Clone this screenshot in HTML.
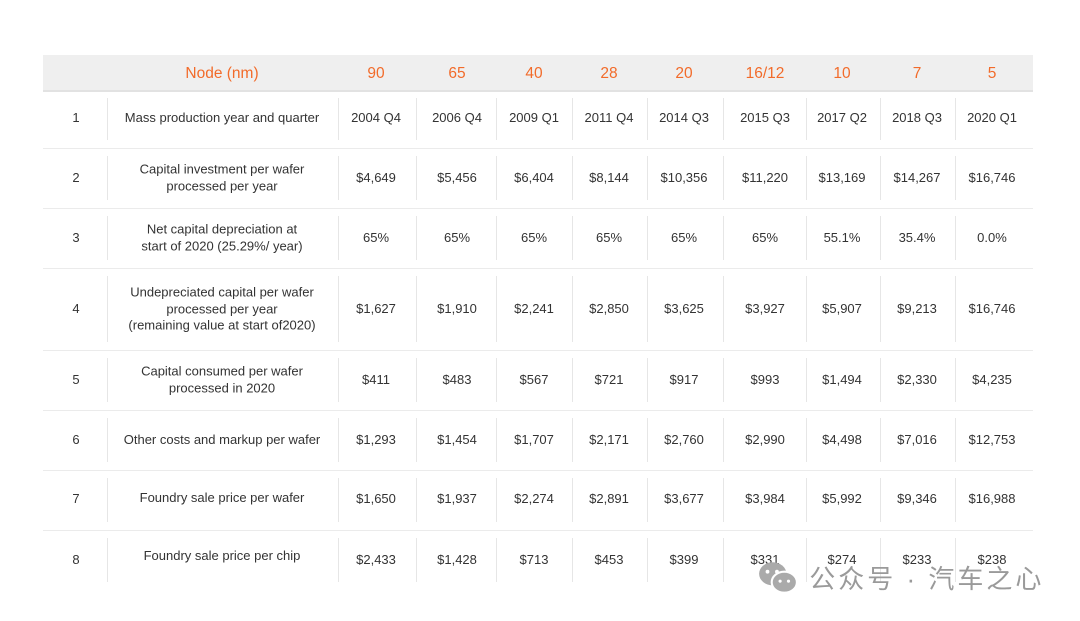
<!DOCTYPE html>
<html><head><meta charset="utf-8"><style>
body{margin:0;width:1080px;height:621px;background:#fff;position:relative;overflow:hidden;font-family:"Liberation Sans","Noto Sans CJK SC",sans-serif;color:#333}
.hd{position:absolute;left:43px;top:55px;width:990px;height:35px;background:#efefef;border-bottom:2px solid #e2e2e2}
.t{position:absolute;transform:translate(-50%,-50%);text-align:center;font-size:13px;line-height:16.5px;white-space:nowrap}
.h{color:#f26b2a;font-size:15.5px}
.hl{position:absolute;left:43px;width:990px;height:1px;background:#ebebeb}
.vl{position:absolute;width:1px;background:#e6e6e6}
.wm{position:absolute;color:#9a9a9a;font-size:26px;letter-spacing:3px;white-space:nowrap}
</style></head><body>
<div class="hd"></div>
<div id="c"></div>
<div class="wm" style="left:757px;top:559px;">
<svg width="42" height="36" viewBox="0 0 40 34" style="vertical-align:middle"><ellipse cx="15" cy="13" rx="13" ry="11" fill="#aaa"/><ellipse cx="26" cy="21" rx="12" ry="10" fill="#aaa" stroke="#fff" stroke-width="2"/><circle cx="10" cy="11" r="1.8" fill="#fff"/><circle cx="19" cy="11" r="1.8" fill="#fff"/><circle cx="22" cy="20" r="1.5" fill="#fff"/><circle cx="30" cy="20" r="1.5" fill="#fff"/></svg>
<span style="vertical-align:middle">公众号 · 汽车之心</span></div>
<script>
var cx=[376,457,534,609,684,765,842,917,992];
var H=["90","65","40","28","20","16/12","10","7","5"];
var rows=[
[118,"Mass production year and quarter",["2004 Q4","2006 Q4","2009 Q1","2011 Q4","2014 Q3","2015 Q3","2017 Q2","2018 Q3","2020 Q1"],90,148],
[178,"Capital investment per wafer<br>processed per year",["$4,649","$5,456","$6,404","$8,144","$10,356","$11,220","$13,169","$14,267","$16,746"],148,208],
[238,"Net capital depreciation at<br>start of 2020 (25.29%/ year)",["65%","65%","65%","65%","65%","65%","55.1%","35.4%","0.0%"],208,268],
[309,"Undepreciated capital per wafer<br>processed per year<br>(remaining value at start of2020)",["$1,627","$1,910","$2,241","$2,850","$3,625","$3,927","$5,907","$9,213","$16,746"],268,350],
[380,"Capital consumed per wafer<br>processed in 2020",["$411","$483","$567","$721","$917","$993","$1,494","$2,330","$4,235"],350,410],
[440,"Other costs and markup per wafer",["$1,293","$1,454","$1,707","$2,171","$2,760","$2,990","$4,498","$7,016","$12,753"],410,470],
[499,"Foundry sale price per wafer",["$1,650","$1,937","$2,274","$2,891","$3,677","$3,984","$5,992","$9,346","$16,988"],470,530],
[560,"Foundry sale price per chip",["$2,433","$1,428","$713","$453","$399","$331","$274","$233","$238"],530,590]];
var vx=[107,338,416,496,572,647,723,806,880,955];
var s='<div class="t h" style="left:222px;top:74px">Node (nm)</div>';
H.forEach(function(h,i){s+='<div class="t h" style="left:'+cx[i]+'px;top:74px">'+h+'</div>';});
rows.forEach(function(r,k){
s+='<div class="t" style="left:76px;top:'+r[0]+'px">'+(k+1)+'</div>';
var ly=(k==0||k==5||k==6||k==7)?r[0]-(k==6?1:(k==7?4:0)):r[0];
s+='<div class="t" style="left:222px;top:'+ly+'px">'+r[1]+'</div>';
r[2].forEach(function(v,i){s+='<div class="t" style="left:'+cx[i]+'px;top:'+r[0]+'px">'+v+'</div>';});
if(k<7)s+='<div class="hl" style="top:'+r[4]+'px"></div>';
vx.forEach(function(x){s+='<div class="vl" style="left:'+x+'px;top:'+(r[3]+8)+'px;height:'+(r[4]-r[3]-16)+'px"></div>';});
});
document.getElementById('c').innerHTML=s;
</script>
</body></html>
